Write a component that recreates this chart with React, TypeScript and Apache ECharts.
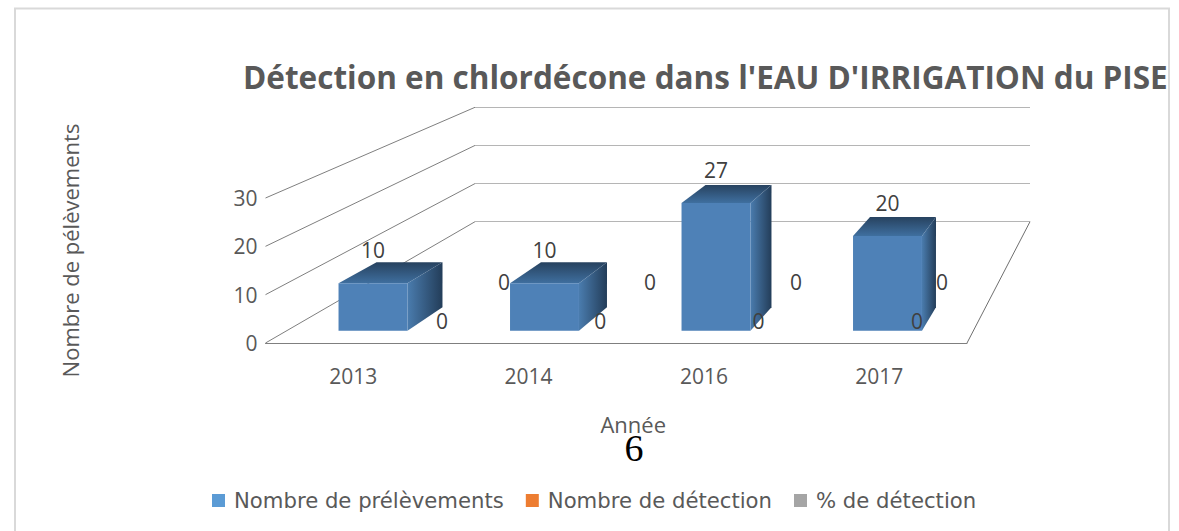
import React, { useEffect, useRef } from "react";
import * as echarts from "echarts";

const titleText = "Détection en chlordécone dans l'EAU D'IRRIGATION du PISE";
const categories = ["2013", "2014", "2016", "2017"];
const seriesNames = ["Nombre de prélèvements", "Nombre de détection", "% de détection"];
const prelevements = [10, 10, 27, 20];
const detections = [0, 0, 0, 0];
const pourcentages = [0, 0, 0, 0];
const yTicks = [0, 10, 20, 30];

const FRONT = { left: 265.5, top: 198, width: 701.5, height: 145 };
const BACK = { left: 475, top: 107.3, width: 555, height: 114.4 };
const BARS = { left: 287.25, top: 188.7, width: 686, height: 142 };
const MID = { left: 362.85, top: 221, width: 633.2, height: 100 };
const REAR = { left: 431, top: 182, width: 584, height: 100 };
const BAR_RATIO = 0.402;
const DEPTH_X = [35, 28, 21, 14];
const DEPTH_Y_TOP = [21, 21, 18, 19];
const DEPTH_Y_BASE = 23.5;
const FONT = "'Open Sans', sans-serif";
const COLORS = ["#5b9bd5", "#ed7d31", "#a5a5a5"];

function vGrad(a: string, b: string) {
  return { type: "linear", x: 0, y: 0, x2: 0, y2: 1, colorStops: [{ offset: 0, color: a }, { offset: 1, color: b }] };
}
function hGrad(a: string, b: string) {
  return { type: "linear", x: 0, y: 0, x2: 1, y2: 0, colorStops: [{ offset: 0, color: a }, { offset: 1, color: b }] };
}

function renderWalls(_p: any, api: any) {
  const v = api.value(1);
  const front = api.coord([0, v]);
  const backY = BACK.top + BACK.height * (1 - v / 30);
  const children: any[] = [
    { type: "line", shape: { x1: FRONT.left, y1: front[1], x2: BACK.left, y2: backY }, style: { stroke: "#7f7f7f", lineWidth: 1 } },
  ];
  if (v === 0) {
    children.push({
      type: "line",
      shape: { x1: FRONT.left + FRONT.width, y1: front[1], x2: BACK.left + BACK.width, y2: backY },
      style: { stroke: "#6f6f6f", lineWidth: 1 },
    });
  }
  return { type: "group", children };
}

function renderBar(_p: any, api: any) {
  const i = api.value(0);
  const v = api.value(1);
  const base = api.coord([i, 0]);
  const top = api.coord([i, v]);
  const half = (api.size([1, 0])[0] * BAR_RATIO) / 2;
  const x0 = base[0] - half;
  const x1 = base[0] + half;
  const dx = DEPTH_X[i];
  const dy = DEPTH_Y_TOP[i];
  return {
    type: "group",
    children: [
      { type: "polygon", shape: { points: [[x1, base[1]], [x1, top[1]], [x1 + dx, top[1] - dy], [x1 + dx, base[1] - DEPTH_Y_BASE]] }, style: { fill: hGrad("#4a7cae", "#233d59") } },
      { type: "polygon", shape: { points: [[x0, top[1]], [x1, top[1]], [x1 + dx, top[1] - dy], [x0 + dx + 3, top[1] - dy]] }, style: { fill: vGrad("#27425f", "#3f6f9f") } },
      { type: "rect", shape: { x: x0, y: top[1], width: x1 - x0, height: base[1] - top[1] }, style: { fill: "#4e81b7" } },
      { type: "text", style: { text: String(v), x: base[0], y: top[1] - 33, align: "center", verticalAlign: "middle", fill: "#404040", font: `21px ${FONT}` } },
    ],
  };
}

function renderZero(_p: any, api: any) {
  const p = api.coord([api.value(0), api.value(1)]);
  return { type: "text", style: { text: String(api.value(1)), x: p[0], y: p[1], align: "center", verticalAlign: "middle", fill: "#404040", font: `21px ${FONT}` } };
}

function hiddenX(gridIndex: number) {
  return { type: "category", gridIndex, data: categories, show: false };
}
function hiddenY(gridIndex: number, splitLine = false) {
  return {
    type: "value", gridIndex, min: 0, max: 30, interval: 10,
    axisLine: { show: false }, axisTick: { show: false }, axisLabel: { show: false },
    splitLine: { show: splitLine, lineStyle: { color: "#b5b5b5", width: 1 } },
  };
}

export default function App() {
  const ref = useRef<HTMLDivElement>(null);
  useEffect(() => {
    document.body.style.margin = "0";
    const chart = echarts.init(ref.current!, undefined, { renderer: "svg" });
    chart.setOption({
      animation: false,
      backgroundColor: "#ffffff",
      title: { text: titleText, left: 243, top: 60, padding: 0, textStyle: { fontFamily: FONT, fontWeight: "bold", fontSize: 31.5, color: "#595959" } },
      legend: {
        left: 212, top: 490, padding: 0, itemWidth: 13, itemHeight: 13, itemGap: 22, icon: "rect",
        data: seriesNames.map((name, i) => ({ name, itemStyle: { color: COLORS[i] } })),
        textStyle: { fontFamily: "'DejaVu Sans', sans-serif", fontSize: 21.2, color: "#595959", padding: [0, 0, 0, 4] },
      },
      grid: [FRONT, BACK, BARS, MID, REAR].map((g) => ({ ...g, containLabel: false })),
      xAxis: [
        {
          type: "category", gridIndex: 0, data: categories, name: "Année", nameLocation: "middle", nameGap: 70,
          nameTextStyle: { fontFamily: FONT, fontSize: 22, color: "#595959", padding: [0, 0, 0, 34] },
          axisLine: { lineStyle: { color: "#7f7f7f" } }, axisTick: { show: false },
          axisLabel: { margin: 22, fontFamily: FONT, fontSize: 21, color: "#595959" },
        },
        hiddenX(1), hiddenX(2), hiddenX(3), hiddenX(4),
      ],
      yAxis: [
        {
          type: "value", gridIndex: 0, min: 0, max: 30, interval: 10, name: "Nombre de pélèvements", nameLocation: "middle", nameGap: 185, nameRotate: 90,
          nameTextStyle: { fontFamily: FONT, fontSize: 22, color: "#595959", padding: [0, 0, 0, 40] },
          axisLine: { show: false }, axisTick: { show: false }, splitLine: { show: false },
          axisLabel: { margin: 8, fontFamily: FONT, fontSize: 21, color: "#595959" },
        },
        hiddenY(1, true), hiddenY(2), hiddenY(3), hiddenY(4),
      ],
      graphic: [
        { type: "polyline", shape: { points: [[15, 531], [15, 8.5], [1169, 8.5], [1169, 531]] }, style: { stroke: "#d9d9d9", lineWidth: 2, fill: "none" }, silent: true },
        { type: "text", x: 634, y: 448, style: { text: "6", align: "center", verticalAlign: "middle", fill: "#000000", font: "38px 'Liberation Serif', serif" } },
      ],
      series: [
        { type: "custom", name: "walls", xAxisIndex: 0, yAxisIndex: 0, renderItem: renderWalls, data: yTicks.map((t) => [0, t]), silent: true, z: 1 },
        { type: "custom", name: seriesNames[0], xAxisIndex: 2, yAxisIndex: 2, renderItem: renderBar, itemStyle: { color: COLORS[0] }, data: prelevements.map((v, i) => [i, v]), z: 3 },
        { type: "custom", name: seriesNames[1], xAxisIndex: 3, yAxisIndex: 3, renderItem: renderZero, itemStyle: { color: COLORS[1] }, data: detections.map((v, i) => [i, v]), z: 4 },
        { type: "custom", name: seriesNames[2], xAxisIndex: 4, yAxisIndex: 4, renderItem: renderZero, itemStyle: { color: COLORS[2] }, data: pourcentages.map((v, i) => [i, v]), z: 4 },
      ],
    });
    return () => chart.dispose();
  }, []);
  return <div ref={ref} style={{ position: "absolute", left: 0, top: 0, width: 1179, height: 531 }} />;
}
